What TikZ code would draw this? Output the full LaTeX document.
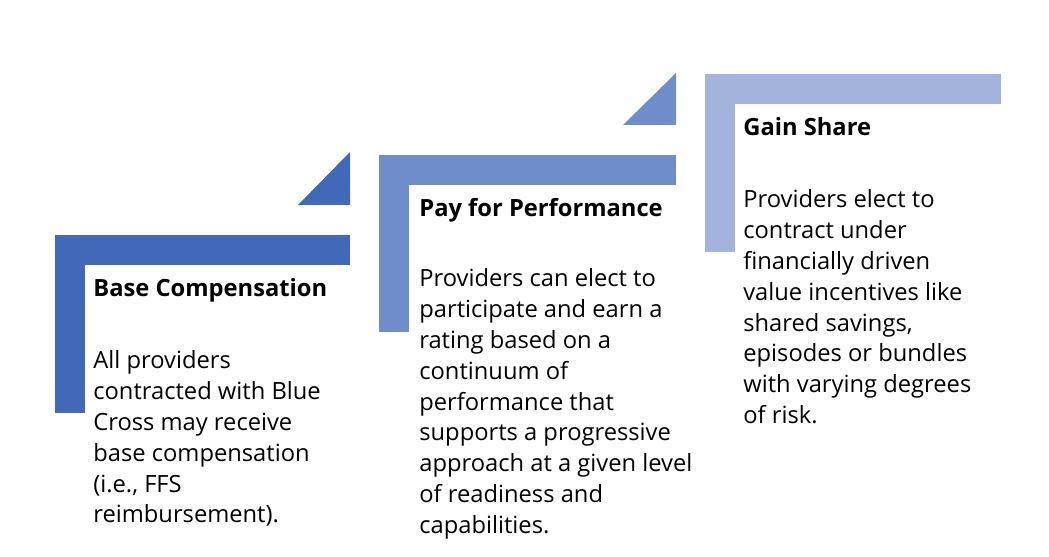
\documentclass[tikz,border=0pt]{standalone}
\usepackage{fontspec}
\setmainfont{Open Sans}
\usepackage{xcolor}
\definecolor{stepone}{HTML}{4169B8}
\definecolor{steptwo}{HTML}{6F8CCB}
\definecolor{stepthree}{HTML}{A4B3DC}
\tikzset{
  bodytext/.style={anchor=north west, align=left, inner sep=0pt,
    font=\fontsize{13.5}{17.6}\selectfont},
  titletext/.style={anchor=north west, inner sep=0pt,
    font=\fontsize{13.5}{16}\selectfont\bfseries}
}
\begin{document}
\begin{tikzpicture}[x=0.02cm,y=-0.02cm]
\useasboundingbox [fill=white] (0,0) rectangle (1049,557);

% step one
\fill [stepone] (55,235) rectangle (350,265);
\fill [stepone] (55,235) rectangle (85,413);
\fill [stepone] (298,205) -- (350,205) -- (350,152) -- cycle;
% step two
\fill [steptwo] (379,155) rectangle (676,185);
\fill [steptwo] (379,155) rectangle (409,332);
\fill [steptwo] (623,125) -- (676,125) -- (676,73) -- cycle;
% step three
\fill [stepthree] (705,74) rectangle (1001,104);
\fill [stepthree] (705,74) rectangle (735,252);

\node [titletext] (baseTitle) at (93,278) {Base Compensation};
\node [bodytext] (baseText) at (93,350) {All providers\\contracted with Blue\\Cross may receive\\base compensation\\(i.e., FFS\\reimbursement).};

\node [titletext] (payTitle) at (419,198) {Pay for Performance};
\node [bodytext] (payText) at (419,268) {Providers can elect to\\participate and earn a\\rating based on a\\continuum of\\performance that\\supports a progressive\\approach at a given level\\of readiness and\\capabilities.};

\node [titletext] (gainTitle) at (743,117) {Gain Share};
\node [bodytext] (gainText) at (743,189) {Providers elect to\\contract under\\financially driven\\value incentives like\\shared savings,\\episodes or bundles\\with varying degrees\\of risk.};
\end{tikzpicture}
\end{document}
